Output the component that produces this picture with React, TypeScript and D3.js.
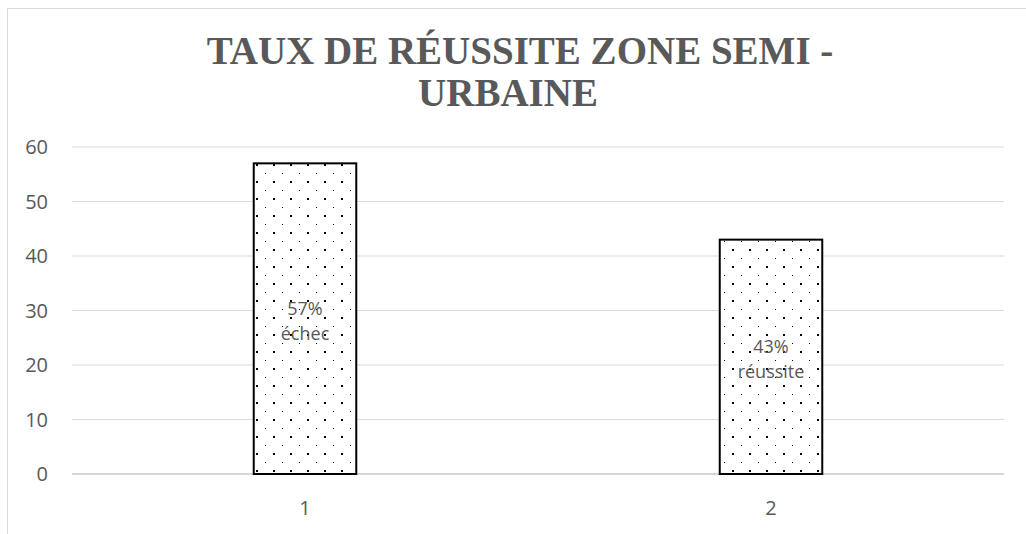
import React from 'react';
import * as d3 from 'd3';

// data
const categories = ['1', '2'];
const values = [57, 43];
const outcomes = ['échec', 'réussite'];
const yTicks = [0, 10, 20, 30, 40, 50, 60];
const titleLines = ['TAUX DE RÉUSSITE ZONE SEMI -', 'URBAINE'];

const W = 1026;
const H = 534;
const grey = '#595959';
const font = '"Open Sans", "Liberation Sans", sans-serif';

export default function App() {
  const x = d3
    .scaleBand()
    .domain(categories)
    .range([72, 1004])
    .paddingInner(0.78)
    .paddingOuter(0.39);

  const y = d3.scaleLinear().domain([0, 60]).range([474, 147]);

  return (
    <svg
      width={W}
      height={H}
      style={{ position: 'absolute', left: 0, top: 0, background: '#fff' }}
    >
      <defs>
        <pattern id="dots" patternUnits="userSpaceOnUse" x={1} y={11} width={17} height={17}>
          <rect x={0} y={0} width={2} height={2} fill="#000" />
          <rect x={9} y={9} width={1} height={1} fill="#000" />
        </pattern>
      </defs>

      {/* chart area border, runs off the right/bottom edge */}
      <rect x={7.5} y={8.5} width={1100} height={600} fill="#fff" stroke="#d9d9d9" />

      {/* title */}
      {titleLines.map((t, i) => (
        <text
          key={t}
          x={i === 0 ? 520 : 508}
          y={64 + i * 42}
          textAnchor="middle"
          fontFamily='"Liberation Serif", "Times New Roman", serif'
          fontWeight="bold"
          fontSize={39}
          fill={grey}
        >
          {t}
        </text>
      ))}

      {/* gridlines + y labels */}
      {yTicks.map((t) => (
        <g key={t}>
          <line
            x1={72}
            x2={1004}
            y1={y(t)}
            y2={y(t)}
            stroke={t === 0 ? '#c8c8c8' : '#d9d9d9'}
            strokeWidth={t === 0 ? 1.5 : 1}
          />
          <text
            x={48}
            y={y(t)}
            dy="0.35em"
            textAnchor="end"
            fontFamily={font}
            fontSize={20}
            fill={grey}
          >
            {t}
          </text>
        </g>
      ))}

      {/* bars */}
      {categories.map((c, i) => {
        const x0 = x(c) as number;
        const bw = x.bandwidth();
        const top = y(values[i]);
        const mid = (top + y(0)) / 2;
        const cx = x0 + bw / 2;
        return (
          <g key={c}>
            <rect x={x0} y={top} width={bw} height={y(0) - top} fill="#fff" />
            <rect
              x={x0}
              y={top}
              width={bw}
              height={y(0) - top}
              fill="url(#dots)"
              stroke="#000"
              strokeWidth={2}
            />
            <text x={cx} y={mid - 4} textAnchor="middle" fontFamily={font} fontSize={18} fill={grey}>
              {values[i] + '%'}
            </text>
            <text x={cx} y={mid + 21} textAnchor="middle" fontFamily={font} fontSize={18} fill={grey}>
              {outcomes[i]}
            </text>
            <text
              x={cx}
              y={508}
              dy="0.35em"
              textAnchor="middle"
              fontFamily={font}
              fontSize={20}
              fill={grey}
            >
              {c}
            </text>
          </g>
        );
      })}
    </svg>
  );
}
